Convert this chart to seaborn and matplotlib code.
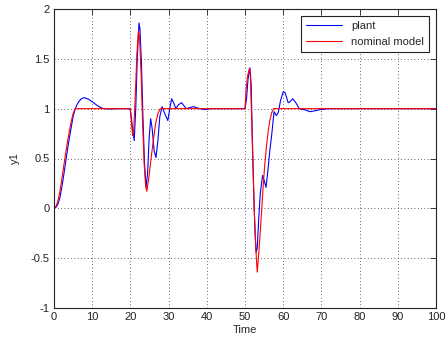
import matplotlib
matplotlib.use("Agg")
import matplotlib.pyplot as plt
import seaborn as sns
import pandas as pd

# ---- data ----
plant_t = [0, 0.5, 1, 1.5, 2, 2.5, 3, 3.5, 4, 4.5, 5, 5.5, 6, 6.5, 7, 7.5, 8, 9, 10, 11, 12, 13, 15, 17, 19.9,
           20.3, 20.6, 21.0, 21.4, 21.8, 22.25, 22.5, 22.9, 23.3, 23.7, 24.1, 24.5, 24.9, 25.3, 25.7, 26.2, 26.7,
           27.2, 27.7, 28.3, 29.0, 29.8, 30.3, 30.8, 31.3, 31.9, 32.6, 33.4, 34.0, 34.6, 35.5, 36.5, 37.3, 38.2,
           39.5, 41, 50.0,
           50.4, 50.8, 51.3, 51.6, 52.0, 52.4, 52.7, 52.9, 53.2, 53.6, 54.0, 54.6, 55.0, 55.5, 56.0, 56.5, 57.0,
           57.6, 58.2, 58.7, 59.3, 60.0, 60.5, 61.3, 61.8, 62.5, 63.3, 64.2, 65.5, 67.0, 68.5, 69.6, 72, 100]
plant_y = [0, 0.01, 0.04, 0.1, 0.2, 0.32, 0.45, 0.58, 0.7, 0.81, 0.92, 0.99, 1.04, 1.07, 1.095, 1.105, 1.11, 1.095,
           1.07, 1.04, 1.015, 1.0, 0.997, 1.0, 1.0,
           0.9, 0.78, 0.68, 1.0, 1.5, 1.86, 1.8, 1.45, 0.9, 0.45, 0.21, 0.35, 0.7, 0.9, 0.8, 0.58, 0.51,
           0.68, 0.92, 1.02, 0.95, 0.88, 1.0, 1.10, 1.06, 1.0, 1.04, 1.06, 1.03, 1.0, 1.01, 1.02, 1.01, 1.0,
           0.99, 1.0, 1.0,
           1.1, 1.3, 1.41, 1.25, 0.6, 0.0, -0.3, -0.44, -0.4, -0.1, 0.15, 0.33, 0.28, 0.21, 0.38, 0.58, 0.74,
           0.97, 0.93, 0.96, 1.08, 1.17, 1.16, 1.06, 1.07, 1.10, 1.06, 1.0, 0.99, 0.97, 0.98, 0.99, 1.0, 1.0]

model_t = [0, 0.5, 1, 1.5, 2, 2.5, 3, 3.5, 4, 4.5, 5, 5.5, 20.0,
           20.3, 20.6, 20.9, 21.3, 21.7, 22.1, 22.4, 22.8, 23.2, 23.6, 24.0, 24.3, 24.8, 25.4, 26.0, 26.6, 27.2,
           27.8, 50.0,
           50.3, 50.7, 51.1, 51.4, 51.7, 52.1, 52.5, 52.9, 53.2, 53.5, 53.9, 54.4, 54.8, 55.2, 55.7, 56.1, 56.5,
           57.0, 57.5, 100]
model_y = [0, 0.02, 0.07, 0.16, 0.28, 0.41, 0.54, 0.66, 0.77, 0.87, 0.95, 1.0, 1.0,
           0.85, 0.73, 0.8, 1.15, 1.55, 1.78, 1.72, 1.35, 0.85, 0.45, 0.22, 0.17, 0.3, 0.5, 0.68, 0.85, 0.95,
           1.0, 1.0,
           1.2, 1.33, 1.40, 1.33, 0.95, 0.4, -0.1, -0.45, -0.64, -0.5, -0.29, 0.0, 0.25, 0.45, 0.65, 0.78, 0.88,
           0.96, 1.0, 1.0]

series_names = ["plant", "nominal model"]
x_ticks = [0, 10, 20, 30, 40, 50, 60, 70, 80, 90, 100]
y_ticks = [-1, -0.5, 0, 0.5, 1, 1.5, 2]

df = pd.concat([
    pd.DataFrame({"Time": plant_t, "y1": plant_y, "series": series_names[0]}),
    pd.DataFrame({"Time": model_t, "y1": model_y, "series": series_names[1]}),
], ignore_index=True)

sns.set_style("white")
plt.rcParams["font.family"] = ["Liberation Sans", "DejaVu Sans"]

fig = plt.figure(figsize=(4.48, 3.42), dpi=100)
ax = fig.add_axes([54 / 448, 1 - 308 / 342, (436 - 54) / 448, (308 - 9) / 342])

sns.lineplot(data=df, x="Time", y="y1", hue="series", sort=False, estimator=None,
             palette={"plant": "#0000ff", "nominal model": "#ff0000"},
             linewidth=0.8, ax=ax)

ax.set_xlim(0, 100)
ax.set_ylim(-1, 2)
ax.set_xticks(x_ticks)
ax.set_yticks(y_ticks)
ax.set_xticklabels([str(v) for v in x_ticks])
ax.set_yticklabels(["-1", "-0.5", "0", "0.5", "1", "1.5", "2"])
ax.grid(True, linestyle=(0, (1, 3)), color="#333333", linewidth=0.6)
ax.tick_params(direction="in", length=4, width=0.6, top=True, right=True,
               labelsize=8, colors="#222222", pad=3)
for s in ax.spines.values():
    s.set_visible(True)
    s.set_color("#222222")
    s.set_linewidth(0.8)
ax.set_xlabel("Time", fontsize=8, labelpad=2)
ax.set_ylabel("y1", fontsize=8, labelpad=8)

leg = ax.legend(loc="upper right", fontsize=8, frameon=True, fancybox=False,
                edgecolor="#222222", handlelength=3.2, borderpad=0.5,
                labelspacing=0.5, borderaxespad=0.6)
leg.get_frame().set_linewidth(0.8)
leg.get_frame().set_alpha(1)
leg.set_title(None)

fig.savefig("out.png", dpi=100, facecolor="white")
